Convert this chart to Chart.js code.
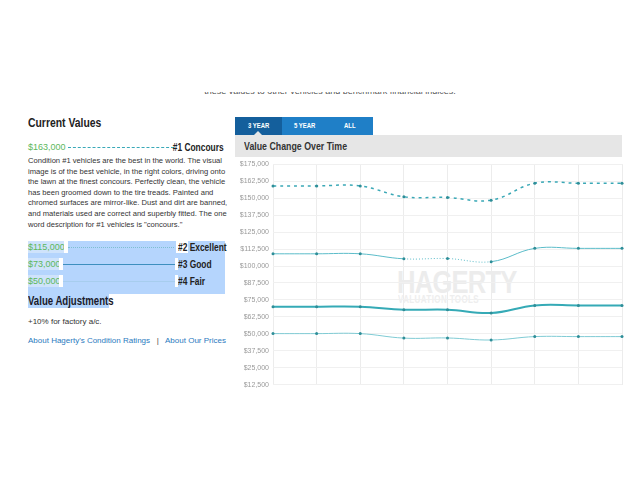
<!DOCTYPE html>
<html>
<head>
<meta charset="utf-8">
<script src="https://cdn.jsdelivr.net/npm/chart.js@4"></script>
<style>
  body { margin: 0; width: 640px; height: 480px; background: #fff; font-family: "Liberation Sans", Arial, sans-serif; position: relative; overflow: hidden; }
  .abs { position: absolute; }
  .narrow { font-weight: bold; display: inline-block; white-space: nowrap; transform: scaleX(0.8); transform-origin: left center; }
  .narrowR { font-weight: bold; display: inline-block; white-space: nowrap; transform: scaleX(0.8); transform-origin: right center; }
  #intro { left: 0; top: 92px; width: 640px; height: 6px; overflow: hidden; }
  #intro div { position: absolute; top: -6px; left: 0; width: 660px; text-align: center; font-size: 9px; color: #555; }
  #cv { left: 28px; top: 115px; font-size: 13px; color: #222; }
  .val { color: #5cb85c; font-size: 9px; }
  .lbl { font-size: 10.5px; color: #222; white-space: nowrap; }
  #para { left: 28px; top: 156px; font-size: 7.6px; line-height: 10.6px; color: #333; white-space: nowrap; }
  #sel { left: 28px; top: 241px; width: 197px; height: 53px; background: #b5d5fd; }
  .row { position: absolute; left: 28px; width: 197px; height: 12px; }
  .row .val { position: absolute; left: 0; top: 0; background: #cfe3fb; line-height: 12px; }
  .row .lbl { position: absolute; left: 150px; top: 0; line-height: 12px; }
  .row .ln { position: absolute; top: 6px; }
  .gap { position: absolute; top: 0; height: 12px; background: #fff; }
  #va { left: 28px; top: 294px; font-size: 12px; color: #1a1a2a; line-height: 14px; }
  #vabg { left: 28px; top: 294px; width: 81px; height: 14px; background: #b5d5fd; }
  #adj { left: 28px; top: 317px; font-size: 8px; color: #333; }
  #links { left: 28px; top: 336px; font-size: 8px; color: #2a7ac0; }
  #tabs { left: 235px; top: 117px; height: 18px; }
  .tab { position: absolute; top: 0; height: 18px; line-height: 18px; text-align: center; color: #fff; font-size: 7px; background: #1f7fc7; font-weight: bold; }
  .tab span { display: inline-block; transform: scaleX(0.85); }
  #bar { left: 235px; top: 135px; width: 387px; height: 22px; background: #e6e6e6; }
  #bar span { position: absolute; left: 9px; top: 5px; font-size: 11px; color: #333; }
  #notch { left: 254px; top: 131px; width: 0; height: 0; border-left: 4px solid transparent; border-right: 4px solid transparent; border-bottom: 4px solid #e6e6e6; }
  #wm1 { left: 397px; top: 264px; font-size: 32px; color: #ececec; letter-spacing: -1px; }
  #wm2 { left: 398px; top: 294px; font-size: 10px; color: #eeeeee; letter-spacing: 0.5px; }
  #wrap { left: 230px; top: 156px; width: 396px; height: 237px; }
</style>
</head>
<body>
<div id="intro" class="abs"><div>these values to other vehicles and benchmark financial indices.</div></div>

<div id="cv" class="abs narrow">Current Values</div>
<div class="abs val" style="left:28px;top:142px;">$163,000</div>
<div class="abs" style="left:68px;top:147px;width:106px;border-top:1px dashed #3aa9b8;"></div>
<div class="abs lbl" style="right:416px;top:141px;"><span class="narrowR">#1 Concours</span></div>
<div id="para" class="abs">Condition #1 vehicles are the best in the world. The visual<br>image is of the best vehicle, in the right colors, driving onto<br>the lawn at the finest concours. Perfectly clean, the vehicle<br>has been groomed down to the tire treads. Painted and<br>chromed surfaces are mirror-like. Dust and dirt are banned,<br>and materials used are correct and superbly fitted. The one<br>word description for #1 vehicles is "concours."</div>

<div id="sel" class="abs"></div>
<div class="row" style="top:241px;">
  <span class="val">$115,000</span><div class="gap" style="left:36px;width:4px;"></div>
  <div class="ln" style="left:40px;width:106px;border-top:1px dotted #7fbfd0;"></div>
  <div class="gap" style="left:148px;width:12px;"></div>
  <span class="lbl"><span class="narrow">#2 Excellent</span></span>
</div>
<div class="row" style="top:258px;">
  <span class="val">$73,000</span><div class="gap" style="left:31px;width:4px;"></div>
  <div class="ln" style="left:35px;width:112px;border-top:1px solid #3d8fbf;"></div>
  <div class="gap" style="left:147px;width:3px;"></div>
  <span class="lbl"><span class="narrow">#3 Good</span></span>
</div>
<div class="row" style="top:275px;">
  <span class="val">$50,000</span><div class="gap" style="left:31px;width:4px;"></div>
  <div class="ln" style="left:35px;width:112px;border-top:1px solid #a7cdee;"></div>
  <div class="gap" style="left:147px;width:3px;"></div>
  <span class="lbl"><span class="narrow">#4 Fair</span></span>
</div>
<div id="vabg" class="abs"></div>
<div id="va" class="abs narrow">Value Adjustments</div>
<div id="adj" class="abs">+10% for factory a/c.</div>
<div id="links" class="abs">About Hagerty's Condition Ratings &nbsp;&nbsp;<span style="color:#444">|</span>&nbsp;&nbsp; About Our Prices</div>

<div id="tabs" class="abs">
  <div class="tab" style="left:0;width:47px;background:#145f9c;"><span>3 YEAR</span></div>
  <div class="tab" style="left:47px;width:45px;"><span>5 YEAR</span></div>
  <div class="tab" style="left:92px;width:46px;"><span>ALL</span></div>
</div>
<div id="bar" class="abs"><span class="narrow">Value Change Over Time</span></div>
<div id="notch" class="abs"></div>

<div id="wm1" class="abs narrow">HAGERTY</div>
<div id="wm2" class="abs narrow">VALUATION TOOLS</div>

<div id="wrap" class="abs"><canvas id="chart"></canvas></div>

<script>
// periods on the x axis (not labelled in the picture)
const periods = ['P1', 'P2', 'P3', 'P4', 'P5', 'P6', 'P7', 'P8', 'P9'];

// values
const concours = [159000, 159000, 159000, 151000, 150500, 148500, 161000, 161000, 161000];
const excellent = [109000, 109000, 109000, 105300, 105500, 103200, 113000, 113000, 113000];
const good = [70000, 70000, 70000, 67800, 67800, 65400, 71000, 71000, 71000];
const fair = [50200, 50200, 50200, 46900, 47000, 45500, 48000, 48000, 48000];

const yTicks = [12500, 25000, 37500, 50000, 62500, 75000, 87500, 100000, 112500, 125000, 137500, 150000, 162500, 175000];

const pointColor = '#2e8e98';

function series(data, color, width, dash) {
  return {
    data: data,
    borderColor: color,
    borderWidth: width,
    borderDash: dash || [],
    pointRadius: 1.5,
    pointBackgroundColor: pointColor,
    pointBorderColor: pointColor,
    pointBorderWidth: 0,
    tension: 0.4,
    fill: false
  };
}

const dsExcellent = series(excellent, '#5bbcc9', 1);
// middle stretch of the excellent line is dotted
dsExcellent.segment = {
  borderDash: (ctx) => (ctx.p0DataIndex === 3 || ctx.p0DataIndex === 4) ? [1, 2] : undefined
};

new Chart(document.getElementById('chart'), {
  type: 'line',
  data: {
    labels: periods,
    datasets: [
      series(concours, '#3aa8b6', 1.5, [3, 4]),
      dsExcellent,
      series(good, '#35aab6', 2),
      series(fair, '#7fcbd4', 1)
    ]
  },
  options: {
    responsive: true,
    maintainAspectRatio: false,
    animation: false,
    layout: { padding: { top: 4, right: 4, bottom: 0 } },
    plugins: { legend: { display: false }, tooltip: { enabled: false } },
    scales: {
      x: {
        offset: false,
        grid: { color: '#ececec', drawTicks: false },
        border: { display: false },
        ticks: { display: false }
      },
      y: {
        min: 12500,
        max: 175000,
        afterBuildTicks: (scale) => { scale.ticks = yTicks.map((v) => ({ value: v })); },
        afterFit: (scale) => { scale.width = 43; },
        grid: { color: '#f0f0f0', drawTicks: false },
        border: { display: false },
        ticks: {
          color: '#9a9a9a',
          padding: 4,
          font: { size: 7, family: 'Liberation Sans' },
          callback: (v) => '$' + v.toLocaleString('en-US')
        }
      }
    }
  }
});
</script>
</body>
</html>
